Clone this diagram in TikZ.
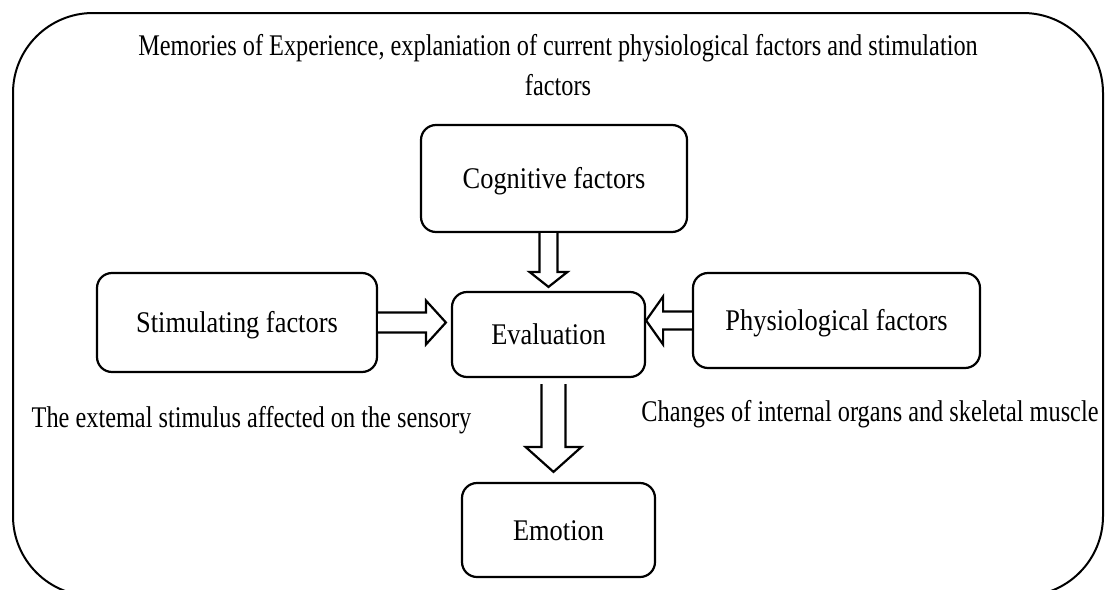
\documentclass[tikz,border=0pt]{standalone}
\usepackage{fontspec}
\setmainfont{Liberation Serif}
\newfontfamily\boxserif[FakeStretch=0.88]{Liberation Serif}
\newfontfamily\noteserif[FakeStretch=0.81]{Liberation Serif}
\usepackage{tikz}
\usetikzlibrary{calc}

\tikzset{
    factorbox/.style={draw, line width=2.2pt, rounded corners=15pt, inner sep=0pt,
        font=\boxserif\fontsize{30}{36}\selectfont, text height=22pt, text depth=2pt},
    noteline/.style={inner sep=0pt, font=\noteserif\fontsize{30}{40}\selectfont},
    blockline/.style={draw, line width=2.2pt, line join=miter, fill=white}
}

%% block arrow: from, to, shaft half width, head half width, head length
\newcommand{\blockarrow}[5]{%
    \coordinate (bh) at ($(#2)!#5!(#1)$);
    \draw [blockline] ($(#1)!#3!90:(#2)$) -- ($(bh)!#3!90:(#2)$) -- ($(bh)!#4!90:(#2)$)
        -- (#2) -- ($(bh)!#4!-90:(#2)$) -- ($(bh)!#3!-90:(#2)$) -- ($(#1)!#3!-90:(#2)$);
}

\begin{document}
\begin{tikzpicture}[x=1pt, y=-1pt]
        \useasboundingbox (0,0) rectangle (1105,589);

        %% Outer frame
        \draw [line width=2pt, rounded corners=80pt] (13,13) rectangle (1103,596);

        %% Heading (base anchor sits on the last line)
        \node [noteline, align=center, anchor=base] (title) at (558,95)
            {Memories of Experience, explaniation of current physiological factors and stimulation\\factors};

        %% The five boxes
        \node [factorbox, minimum width=266pt, minimum height=107pt] (cog) at (554,178.5) {Cognitive factors};
        \node [factorbox, minimum width=193pt, minimum height=85pt] (eval) at (548.5,334.5) {Evaluation};
        \node [factorbox, minimum width=280pt, minimum height=99pt] (stim) at (237,322.5) {Stimulating factors};
        \node [factorbox, minimum width=287pt, minimum height=95pt] (phys) at (836.5,320.5) {Physiological factors};
        \node [factorbox, minimum width=193pt, minimum height=94pt] (emo) at (558.5,530) {Emotion};

        %% Side notes
        \node [noteline, anchor=base] (lblstim) at (251.5,427) {The extemal stimulus affected on the sensory};
        \node [noteline, anchor=base] (lblphys) at (870,421) {Changes of internal organs and skeletal muscle};

        %% Block arrows
        \coordinate (c1) at (eval.north |- cog.south);
        \coordinate (c2) at ($(eval.north)+(0,-4)$);
        \blockarrow{c1}{c2}{9pt}{19pt}{15pt}

        \coordinate (s1) at (stim.east);
        \coordinate (s2) at ($(eval.west |- stim.east)+(-5,0)$);
        \blockarrow{s1}{s2}{10pt}{22pt}{20pt}

        \coordinate (p1) at (phys.west);
        \coordinate (p2) at (eval.east |- phys.west);
        \blockarrow{p1}{p2}{9pt}{24pt}{17pt}

        \coordinate (mid) at ($(eval.south)!0.5!(emo.north)$);
        \coordinate (e1) at ($(mid |- eval.south)+(0,6)$);
        \coordinate (e2) at ($(mid |- emo.north)+(0,-10)$);
        \blockarrow{e1}{e2}{12pt}{28pt}{25pt}
\end{tikzpicture}
\end{document}
